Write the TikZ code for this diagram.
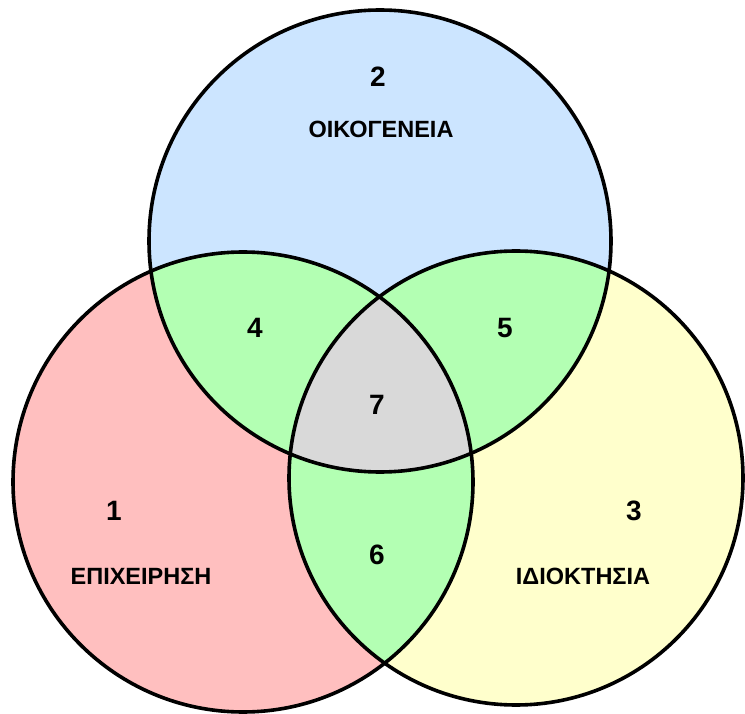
\documentclass[tikz,border=0pt]{standalone}
\usepackage{fontspec}
\setmainfont{Liberation Sans}
\definecolor{cblue}{RGB}{204,229,255}
\definecolor{cpink}{RGB}{255,191,191}
\definecolor{cyellow}{RGB}{255,255,204}
\definecolor{cgreen}{RGB}{179,255,179}
\definecolor{cgray}{RGB}{217,217,217}
\begin{document}
\begin{tikzpicture}[x=1pt,y=-1pt,
  numlbl/.style={font=\fontsize{28}{30}\selectfont\bfseries},
  namelbl/.style={font=\fontsize{23.5}{26}\selectfont\bfseries},
  outline/.style={draw=black,line width=3.6pt}]
\useasboundingbox (0,0) rectangle (745,714);
\fill[white] (0,0) rectangle (745,714);
\def\topc{(380,241) circle[radius=231]}
\def\leftc{(243,482) circle[radius=230]}
\def\rightc{(516,478) circle[radius=227]}
% base fills
\fill[cblue] \topc;
\fill[cpink] \leftc;
\fill[cyellow] \rightc;
% pairwise intersections
\begin{scope}\clip \topc; \fill[cgreen] \leftc; \end{scope}
\begin{scope}\clip \topc; \fill[cgreen] \rightc; \end{scope}
\begin{scope}\clip \leftc; \fill[cgreen] \rightc; \end{scope}
% triple intersection
\begin{scope}\clip \topc; \clip \leftc; \fill[cgray] \rightc; \end{scope}
% outlines
\draw[outline] \topc;
\draw[outline] \leftc;
\draw[outline] \rightc;
% labels
\node[numlbl] (n2) at (378,77) {2};
\node[namelbl] (t2) at (381,129) {ΟΙΚΟΓΕΝΕΙΑ};
\node[numlbl] (n4) at (255,328) {4};
\node[numlbl] (n5) at (505,328) {5};
\node[numlbl] (n7) at (377,405) {7};
\node[numlbl] (n1) at (114,511) {1};
\node[namelbl] (t1) at (141,576) {ΕΠΙΧΕΙΡΗΣΗ};
\node[numlbl] (n6) at (377,555) {6};
\node[numlbl] (n3) at (634,511) {3};
\node[namelbl] (t3) at (583,576) {ΙΔΙΟΚΤΗΣΙΑ};
\end{tikzpicture}
\end{document}
